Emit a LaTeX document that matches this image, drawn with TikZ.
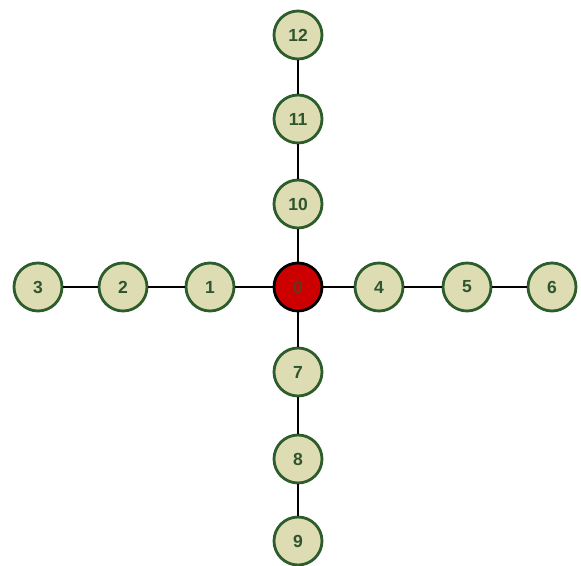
\documentclass[tikz,border=0pt]{standalone}
\usepackage{fontspec}
\setmainfont{Liberation Sans}
\definecolor{nodefill}{HTML}{DDDCB2}
\definecolor{nodeedge}{HTML}{2D5C2D}
\definecolor{nodetext}{HTML}{2F552F}
\definecolor{rootfill}{HTML}{CC0000}
\definecolor{roottext}{HTML}{5E3A1C}
\begin{document}
\begin{tikzpicture}[x=1pt,y=-1pt,
  vert/.style={circle,draw=nodeedge,fill=nodefill,line width=2.8pt,
    minimum size=48pt,inner sep=0pt,text=nodetext,font=\bfseries\fontsize{17.5}{17.5}\selectfont},
  root/.style={vert,draw=black,fill=rootfill,text=roottext},
  link/.style={draw=black,line width=2.4pt}]
\useasboundingbox (0,0) rectangle (581,565);
\node[root] (n0) at (298,287) {0};
\node[vert] (n1) at (210,287) {1};
\node[vert] (n2) at (123,287) {2};
\node[vert] (n3) at (38,287) {3};
\node[vert] (n4) at (379,287) {4};
\node[vert] (n5) at (467,287) {5};
\node[vert] (n6) at (552,287) {6};
\node[vert] (n7) at (298,372) {7};
\node[vert] (n8) at (298,459) {8};
\node[vert] (n9) at (298,541) {9};
\node[vert] (n10) at (298,204) {10};
\node[vert] (n11) at (298,119) {11};
\node[vert] (n12) at (298,35) {12};
\foreach \a/\b in {n0/n1,n1/n2,n2/n3,n0/n4,n4/n5,n5/n6,n0/n7,n7/n8,n8/n9,n0/n10,n10/n11,n11/n12}
  \draw[link] (\a) -- (\b);
\end{tikzpicture}
\end{document}
